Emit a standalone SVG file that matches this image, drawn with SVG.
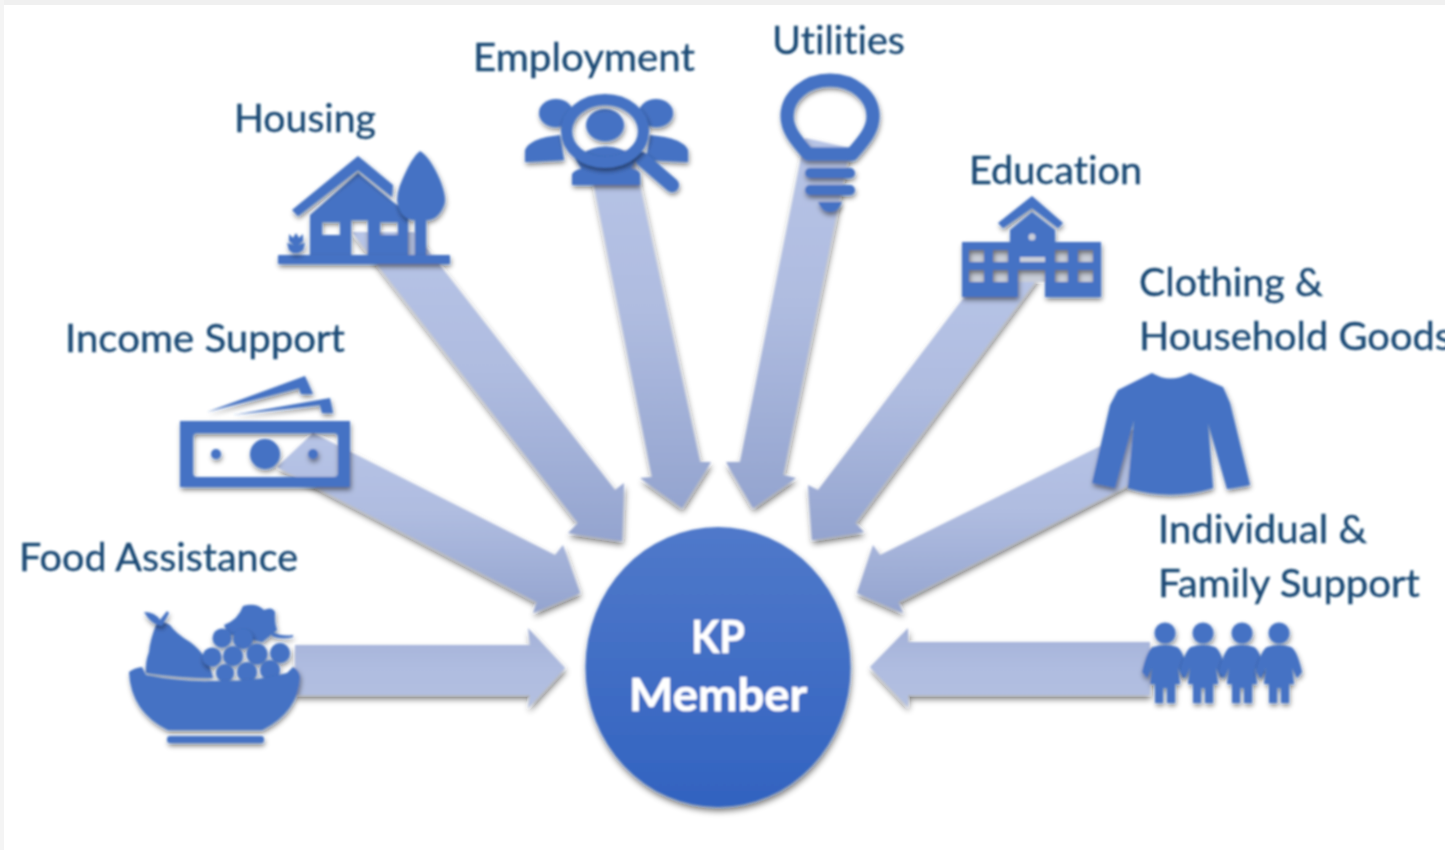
<svg xmlns="http://www.w3.org/2000/svg" xmlns:xlink="http://www.w3.org/1999/xlink" width="1445" height="850" viewBox="0 0 1445 850">
<style>
.lbl{font-family:"Lato","Liberation Sans",sans-serif;font-size:38px;fill:#1a4a75;stroke:#1a4a75;stroke-width:.35px;font-variant-ligatures:none}
.ctr{font-family:"Lato","Liberation Sans",sans-serif;font-size:46px;font-weight:700;fill:#fff;stroke:#fff;stroke-width:.7px;text-anchor:middle;font-variant-ligatures:none}
.ic{fill:#4472c4}
.ic>*{filter:url(#sh)}
.ln{fill:none;stroke:#4472c4;stroke-linecap:round}
.arr{fill:url(#ag);filter:url(#shA)}
.arh{fill:url(#ah);filter:url(#shA)}
.win{fill:#c9ced9}
</style>
<defs>
<filter id="soft" filterUnits="userSpaceOnUse" x="0" y="0" width="1445" height="850"><feGaussianBlur stdDeviation="0.8"/></filter>
<filter id="sh" filterUnits="userSpaceOnUse" x="0" y="0" width="1445" height="850"><feGaussianBlur in="SourceAlpha" stdDeviation="2.5"/><feOffset dx="1" dy="3"/><feComponentTransfer><feFuncA type="linear" slope="0.5"/></feComponentTransfer><feMerge><feMergeNode/><feMergeNode in="SourceGraphic"/></feMerge></filter>
<filter id="shA" filterUnits="userSpaceOnUse" x="0" y="0" width="1445" height="850"><feGaussianBlur in="SourceAlpha" stdDeviation="3"/><feOffset dx="1" dy="4"/><feComponentTransfer><feFuncA type="linear" slope="0.55"/></feComponentTransfer><feMerge><feMergeNode/><feMergeNode in="SourceGraphic"/></feMerge></filter>
<linearGradient id="ag" x1="0" y1="0" x2="0" y2="1"><stop offset="0" stop-color="#b7c4e6"/><stop offset="0.45" stop-color="#afbce0"/><stop offset="1" stop-color="#94a4cf"/></linearGradient>
<linearGradient id="ah" x1="0" y1="0" x2="0" y2="1"><stop offset="0" stop-color="#a3b1d8"/><stop offset="0.5" stop-color="#afbce0"/><stop offset="1" stop-color="#b3c0e1"/></linearGradient>
<linearGradient id="cg" x1="0" y1="0" x2="0" y2="1"><stop offset="0" stop-color="#5079ca"/><stop offset="1" stop-color="#3263c0"/></linearGradient>
<path id="kid" d="M-12 647Q0 643 12 647Q18 650 23 672L18 678L13 668L15 684L10 684L10 703L2 703L2 688L-2 688L-2 703L-10 703L-10 684L-15 684L-13 668L-18 678L-23 672Q-18 650 -12 647Z"/>
</defs>
<rect width="1445" height="850" fill="#fff"/>
<rect width="1445" height="5" fill="#f0f0f0"/>
<rect width="4" height="850" fill="#f4f4f4"/>

<g filter="url(#soft)">
<g id="connectors">
<polygon class="arh" points="295,645 530,645 528,628 565,668 528,708 530,695 295,695"/>
<polygon class="arr" points="313,433 555,555 563,545 580,593 533,613 537,602 277,467"/>
<polygon class="arr" points="352,232 578,523 568,533 622,541 624,483 615,490 414,232"/>
<polygon class="arr" points="587,150 652,477 640,478 682,508 711,462 700,462 632,150"/>
<polygon class="arr" points="805,138 740,462 726,462 753,508 796,478 783,475 850,148"/>
<polygon class="arr" points="981,275 818,490 808,485 812,540 864,532 855,523 1040,275"/>
<polygon class="arr" points="1135,429 880,555 873,545 857,593 903,613 898,602 1160,469"/>
<polygon class="arh" points="1150,642 908,642 908,628 870,667 908,707 908,695 1150,695"/>
</g>

<g id="food-assistance">
<g class="ic">
<path d="M156 625Q150 640 149 652Q145 662 146 673Q180 678 213 678Q208 655 190 642Q175 633 170 625Q163 620 156 625Z"/>
<path d="M158 625Q150 622 144 612Q155 612 160 620L167 611L169 613L162 626Z"/>
<path d="M224 625Q238 620 243 606Q256 602 264 610Q272 606 275 612Q274 622 277 630L262 642L228 634Z"/>
<path d="M272 632Q283 637 293 635L293 637Q282 640 272 636Z"/>
<circle cx="222" cy="638" r="9.5"/><circle cx="243" cy="639" r="10"/>
<circle cx="212" cy="657" r="9.5"/><circle cx="233" cy="656" r="10"/><circle cx="257" cy="654" r="10.5"/><circle cx="280" cy="653" r="10"/>
<circle cx="225" cy="673" r="9"/><circle cx="247" cy="672" r="10"/><circle cx="270" cy="670" r="10"/>
<path d="M129 672Q134 668 142 667L146 675Q180 682 213 681Q255 682 287 673L293 667Q299 670 300 677Q298 712 262 730L168 730Q131 712 129 672Z"/>
<rect x="167" y="736" width="97" height="7" rx="3"/>
</g>
<text class="lbl" x="19" y="571" textLength="279" lengthAdjust="spacingAndGlyphs">Food Assistance</text>
</g>

<g id="income-support">
<g class="ic">
<path d="M207 412L305 376L313 394L301 394L299 388Z"/>
<path d="M233 415L330 398L333 413L322 413L320 405Z"/>
<path fill-rule="evenodd" d="M180 421H350V487H180ZM197 433Q193 433 193 437V473Q193 477 197 477H334Q338 477 338 473V437Q338 433 334 433Z"/>
<circle cx="265" cy="454" r="15"/><circle cx="216" cy="454" r="5"/><circle cx="313" cy="454" r="5"/>
</g>
<text class="lbl" x="65" y="352" textLength="280" lengthAdjust="spacingAndGlyphs">Income Support</text>
</g>

<g id="housing">
<g class="ic">
<path fill-rule="evenodd" d="M310 215L358 173L393 202L408 213V255H310ZM322 222V235H340V222ZM351 220V255H368V220ZM380 222V235H398V222Z"/>
<path d="M358 156L393 185L392 197L358 170L298 216L292 210Z"/>
<path d="M420 151Q430 157 440 180Q447 198 444 205Q438 220 426 220V255H415V220Q402 220 398 205Q395 195 403 178Q412 157 420 151Z"/>
<rect x="278" y="255" width="172" height="9" rx="1"/>
<path d="M289 234L293 238L296 233L299 238L303 234L303 241L298 245L305 243L303 250L298 253H293L289 250L287 243L294 245L289 241Z"/>
</g>
<text class="lbl" x="234" y="132" textLength="142" lengthAdjust="spacingAndGlyphs">Housing</text>
</g>

<g id="employment">
<g class="ic">
<ellipse cx="556" cy="113" rx="17" ry="14"/><ellipse cx="656" cy="113" rx="17" ry="14"/>
<path d="M525 162L525 150Q530 138 560 135L564 160Z"/><path d="M688 162L688 150Q683 138 650 135L646 160Z"/>
<ellipse cx="605" cy="125" rx="19" ry="16"/>
<path d="M575 158Q605 135 637 158L630 170H582Z"/>
<path d="M572 185V174Q575 168 590 168Q605 172 622 168Q638 168 640 174V185Z"/>
<path class="ln" style="stroke-width:14" d="M642 159L672 185"/>
<ellipse class="ln" style="stroke-width:11" cx="605" cy="131" rx="38.5" ry="31.5"/>
</g>
<text class="lbl" x="473" y="71" textLength="222" lengthAdjust="spacingAndGlyphs">Employment</text>
</g>

<g id="utilities">
<g class="ic">
<path class="ln" style="stroke-width:13;stroke-linejoin:round" d="M808 154C796 140 787 130 787 116A43 36 0 1 1 873 116C873 130 864 140 852 154Z"/>
<rect x="805" y="168" width="50" height="10" rx="5"/>
<rect x="805" y="185" width="50" height="10" rx="5"/>
<path d="M818 202H842Q838 212 830 212Q822 212 818 202Z"/>
</g>
<text class="lbl" x="772" y="54" textLength="133" lengthAdjust="spacingAndGlyphs">Utilities</text>
</g>

<g id="education">
<rect class="win" x="969" y="250" width="124" height="32"/>
<g class="ic">
<path d="M1032 196L1063 223L1058 228L1032 208L1003 228L998 223Z"/>
<path fill-rule="evenodd" d="M1032 212L1055 230V242H1101V297H1045V270H1018V297H962V242H1010V230ZM969 250V262H984V250ZM993 250V262H1008V250ZM969 270V282H984V270ZM993 270V282H1008V270ZM1055 250V262H1068V250ZM1078 250V262H1093V250ZM1055 270V282H1068V270ZM1078 270V282H1093V270Z"/>
</g>
<circle class="win" cx="1032" cy="237" r="3.5"/>
<rect class="win" x="1020" y="257" width="25" height="5"/>
<text class="lbl" x="969" y="184" textLength="173" lengthAdjust="spacingAndGlyphs">Education</text>
</g>

<g id="clothing-household-goods">
<g class="ic">
<path d="M1152 373Q1170 384 1190 373L1223 387L1230 403L1250 485L1227 489L1208 423L1213 488Q1170 501 1128 488L1134 420L1115 488L1092 483L1110 405L1118 390Z"/>
</g>
<text class="lbl" x="1139" y="296" textLength="184" lengthAdjust="spacingAndGlyphs">Clothing &amp;</text>
<text class="lbl" x="1139" y="350" textLength="313" lengthAdjust="spacingAndGlyphs">Household Goods</text>
</g>

<g id="individual-family-support">
<g class="ic">
<circle cx="1165" cy="633" r="10.5"/><circle cx="1203" cy="633" r="10.5"/><circle cx="1242" cy="633" r="10.5"/><circle cx="1279" cy="633" r="10.5"/>
<g><use xlink:href="#kid" href="#kid" x="1165"/></g><g><use xlink:href="#kid" href="#kid" x="1203"/></g><g><use xlink:href="#kid" href="#kid" x="1242"/></g><g><use xlink:href="#kid" href="#kid" x="1279"/></g>
</g>
<text class="lbl" x="1158" y="543" textLength="209" lengthAdjust="spacingAndGlyphs">Individual &amp;</text>
<text class="lbl" x="1158" y="597" textLength="262" lengthAdjust="spacingAndGlyphs">Family Support</text>
</g>

<g id="kp-member">
<ellipse cx="718" cy="667" rx="132.5" ry="140" fill="url(#cg)" filter="url(#shA)"/>
<text class="ctr" x="718" y="653" textLength="54" lengthAdjust="spacingAndGlyphs">KP</text>
<text class="ctr" x="718" y="711" textLength="178" lengthAdjust="spacingAndGlyphs">Member</text>
</g>
</g>
</svg>
